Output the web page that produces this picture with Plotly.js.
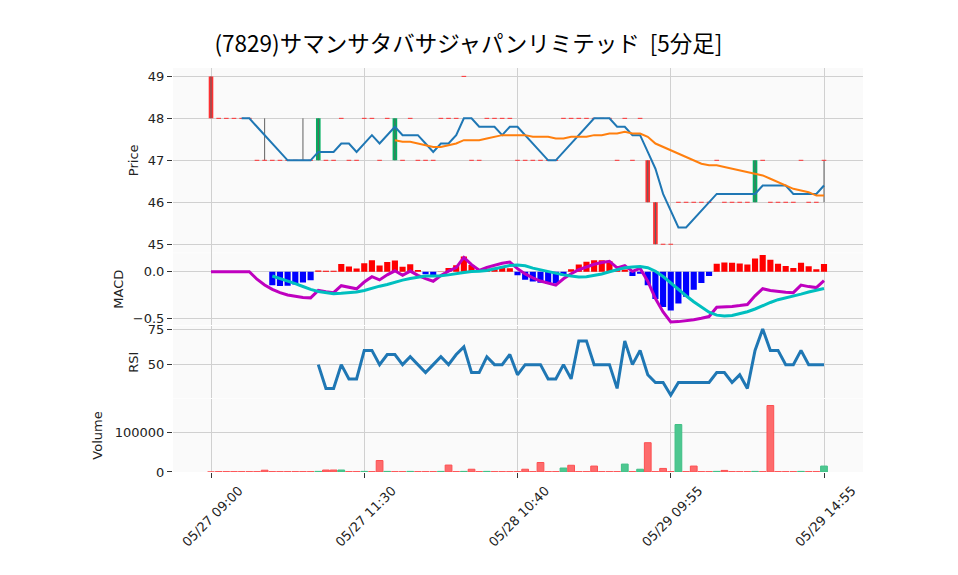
<!DOCTYPE html>
<html><head><meta charset="utf-8">
<script src="https://cdn.plot.ly/plotly-3.0.1.min.js"></script>
<style>html,body{margin:0;padding:0;background:#fff}#chart{width:958px;height:575px}</style>
</head><body><div id="chart"></div>
<script>
// ---- data ----
const tickLabels = ["05/27 09:00", "05/27 11:30", "05/28 10:40", "05/29 09:55", "05/29 14:55"];
const tickPositions = [0, 20, 40, 60, 80];

const open = [49,48,48,48,48,48,47,47,47,47, 47,47,47,47,47,47,47,48,47,47,
  48,48,47,48,47,47,48,47,47,47, 48,48,48,49,47,47,48,48,48,48,
  47,47,47,47,47,47,48,48,48,48, 48,48,48,47,48,47,48,47,46,45,
  45,46,46,46,46,46,47,46,46,46, 46,46,47,46,46,46,46,47,46,46, 47];
const high = [49,48,48,48,48,48,47,48,47,47, 47,47,48,47,48,47,47,48,47,47,
  48,48,47,48,48,47,48,47,47,47, 48,48,48,49,47,47,48,48,48,48,
  47,47,47,47,47,47,48,48,48,48, 48,48,48,47,48,47,48,47,46,45,
  45,46,46,46,46,46,47,46,46,46, 46,47,47,46,46,46,46,47,46,46, 47];
const low = [48,48,48,48,48,48,47,47,47,47, 47,47,47,47,47,47,47,48,47,47,
  48,48,47,48,47,47,48,47,47,47, 48,48,48,49,47,47,48,48,48,48,
  47,47,47,47,47,47,48,48,48,48, 48,48,48,47,48,47,48,46,45,45,
  45,46,46,46,46,46,47,46,46,46, 46,46,47,46,46,46,46,47,46,46, 46];
const close = [48,48,48,48,48,48,47,47,47,47, 47,47,47,47,48,47,47,48,47,47,
  48,48,47,48,48,47,48,47,47,47, 48,48,48,49,47,47,48,48,48,48,
  47,47,47,47,47,47,48,48,48,48, 48,48,48,47,48,47,48,46,45,45,
  45,46,46,46,46,46,47,46,46,46, 46,47,47,46,46,46,46,47,46,46, 47];
const volume = [0,800,800,800,800,800,800,4500,800,800, 800,800,800,800,1500,5000,5000,5000,800,800,
  1500,800,29000,1500,800,800,1500,800,800,800, 1500,17500,800,1500,7000,800,1500,800,800,800,
  800,7000,800,24000,800,800,10000,17000,800,800, 15000,800,800,800,20000,800,7000,74000,800,9000,
  800,120000,800,15000,800,800,1500,4000,800,800, 800,1500,800,168000,800,800,800,1500,800,800, 15000];

const ma5 = [null,null,null,null,48.0,48.0,47.8,47.6,47.4,47.2, 47.0,47.0,47.0,47.0,47.2,47.2,47.2,47.4,47.4,47.2,
  47.4,47.6,47.4,47.6,47.8,47.6,47.6,47.6,47.4,47.2, 47.4,47.4,47.6,48.0,48.0,47.8,47.8,47.8,47.6,47.8,
  47.8,47.6,47.4,47.2,47.0,47.0,47.2,47.4,47.6,47.8, 48.0,48.0,48.0,47.8,47.8,47.6,47.6,47.2,46.8,46.2,
  45.8,45.4,45.4,45.6,45.8,46.0,46.2,46.2,46.2,46.2, 46.2,46.2,46.4,46.4,46.4,46.4,46.2,46.2,46.2,46.2, 46.4];
const ma25 = [null,null,null,null,null,null,null,null,null,null, null,null,null,null,null,null,null,null,null,null,
  null,null,null,null,47.48,47.44,47.44,47.40,47.36,47.32, 47.32,47.36,47.40,47.48,47.48,47.48,47.52,47.56,47.60,47.60,
  47.60,47.60,47.56,47.56,47.56,47.52,47.52,47.56,47.56,47.56, 47.60,47.60,47.64,47.64,47.68,47.64,47.64,47.56,47.40,47.32,
  47.24,47.16,47.08,47.00,46.92,46.88,46.88,46.84,46.80,46.76, 46.72,46.68,46.64,46.56,46.48,46.40,46.32,46.28,46.24,46.16, 46.16];

const macd = [0,0,0,0,0,0,-0.0798,-0.1414,-0.1880,-0.2224,
  -0.2468,-0.2631,-0.2729,-0.2775,-0.1981,-0.2135,-0.2230,-0.1482,-0.1677,-0.1811,
  -0.1097,-0.0525,-0.0869,-0.0331,0.0095,-0.0371,0.0067,-0.0389,-0.0742,-0.1010,
  -0.0410,0.0064,0.0435,0.1518,0.0754,0.0147,0.0467,0.0713,0.0897,0.1031,
  0.0327,-0.0229,-0.0661,-0.0993,-0.1241,-0.1421,-0.0749,-0.0213,0.0209,0.0537,
  0.0788,0.0975,0.1111,0.0408,0.0649,0.0033,0.0348,-0.1005,-0.2851,-0.4265,
  -0.5324,-0.5295,-0.5212,-0.5088,-0.4933,-0.4755,-0.3764,-0.3742,-0.3682,-0.3593,
  -0.3483,-0.2559,-0.1806,-0.1993,-0.2117,-0.2190,-0.2222,-0.1424,-0.1581,-0.1685,
  -0.0950];
const signal = [null,null,null,null,null,null,null,null,-0.0455,-0.0702,
  -0.0976,-0.1268,-0.1572,-0.1880,-0.2100,-0.2249,-0.2339,-0.2295,-0.2234,-0.2161,
  -0.1991,-0.1746,-0.1534,-0.1351,-0.1103,-0.0896,-0.0724,-0.0581,-0.0462,-0.0453,
  -0.0440,-0.0336,-0.0251,-0.0093,0.0032,0.0041,0.0136,0.0297,0.0509,0.0669,
  0.0699,0.0625,0.0383,0.0189,0.0035,-0.0175,-0.0338,-0.0461,-0.0552,-0.0529,
  -0.0416,-0.0234,-0.0001,0.0183,0.0413,0.0500,0.0562,0.0427,0.0051,-0.0511,
  -0.1211,-0.1922,-0.2547,-0.3184,-0.3736,-0.4303,-0.4610,-0.4709,-0.4644,-0.4452,
  -0.4250,-0.3956,-0.3591,-0.3264,-0.2971,-0.2796,-0.2627,-0.2376,-0.2153,-0.1953,
  -0.1774];
const hist = [null,null,null,null,null,null,null,null,-0.1426,-0.1522,
  -0.1492,-0.1363,-0.1158,-0.0895,0.0119,0.0114,0.0109,0.0813,0.0557,0.0351,
  0.0894,0.1221,0.0665,0.1020,0.1198,0.0526,0.0791,0.0192,-0.0280,-0.0557,
  0.0030,0.0400,0.0686,0.1611,0.0722,0.0106,0.0331,0.0415,0.0388,0.0362,
  -0.0372,-0.0854,-0.1044,-0.1182,-0.1276,-0.1246,-0.0411,0.0248,0.0761,0.1066,
  0.1204,0.1210,0.1112,0.0225,0.0236,-0.0466,-0.0214,-0.1432,-0.2902,-0.3754,
  -0.4113,-0.3373,-0.2666,-0.1904,-0.1197,-0.0452,0.0846,0.0967,0.0962,0.0858,
  0.0767,0.1397,0.1785,0.1271,0.0854,0.0606,0.0405,0.0952,0.0572,0.0268,
  0.0824];
const rsi = [null,null,null,null,null,null,null,null,null,null, null,null,null,null,50,33.33,33.33,50,40,40,
  60,60,50,57.14,57.14,50,55.56,50,44.44,50, 55.56,50,57.14,62.5,44.44,44.44,55.56,50,50,57.14,
  42.86,50,50,50,40,40,50,40,66.67,66.67, 50,50,50,33.33,66.67,50,60,42.86,37.5,37.5,
  28.57,37.5,37.5,37.5,37.5,37.5,44.44,44.44,37.5,42.86, 33.33,60,75,60,60,50,50,60,50,50, 50];

// ---- styling ----
const UP = '#00b060', DOWN = '#fe3032', WICK = '#606060';
const VUP = '#4dc790', VDOWN = '#fd6b6c';
const idx = close.map((_, i) => i);
const upI = idx.filter(i => close[i] > open[i]);
const dnI = idx.filter(i => close[i] < open[i]);
const djI = idx.filter(i => close[i] === open[i]);
const wx = [], wy = [];
idx.forEach(i => { if (high[i] > low[i]) { wx.push(i, i, null); wy.push(low[i], high[i], null); } });

const traces = [
  {type:'scatter', mode:'lines', x:wx, y:wy, xaxis:'x2', yaxis:'y', line:{color:WICK, width:1}, hoverinfo:'skip'},
  {type:'bar', x:upI, base:upI.map(i => open[i]), y:upI.map(i => close[i] - open[i]), width:0.6,
   xaxis:'x2', yaxis:'y', marker:{color:UP, line:{width:0}}},
  {type:'bar', x:dnI, base:dnI.map(i => close[i]), y:dnI.map(i => open[i] - close[i]), width:0.6,
   xaxis:'x2', yaxis:'y', marker:{color:DOWN, line:{width:0}}},
  {type:'scatter', mode:'markers', x:djI, y:djI.map(i => close[i]), xaxis:'x2', yaxis:'y',
   marker:{symbol:'line-ew', size:3.3, color:DOWN, line:{color:DOWN, width:1}}},
  {type:'scatter', mode:'lines', x:idx, y:ma5, xaxis:'x2', yaxis:'y', line:{color:'#1f77b4', width:2}},
  {type:'scatter', mode:'lines', x:idx, y:ma25, xaxis:'x2', yaxis:'y', line:{color:'#ff7f0e', width:2}},

  {type:'bar', x:idx, y:hist, width:0.8, xaxis:'x3', yaxis:'y2',
   marker:{color:hist.map(v => (v !== null && v >= 0) ? '#ff0000' : '#0000ff'), line:{width:0}}},
  {type:'scatter', mode:'lines', x:idx, y:macd, xaxis:'x3', yaxis:'y2', line:{color:'#bf00bf', width:3}},
  {type:'scatter', mode:'lines', x:idx, y:signal, xaxis:'x3', yaxis:'y2', line:{color:'#00bfbf', width:3}},

  {type:'scatter', mode:'lines', x:idx, y:rsi, xaxis:'x4', yaxis:'y3', line:{color:'#1f77b4', width:3}},

  {type:'bar', x:idx, y:volume, width:0.88, xaxis:'x', yaxis:'y4',
   marker:{color:idx.map(i => (i > 0 && close[i] > close[i-1]) ? VUP : VDOWN),
           line:{color:idx.map(i => (i > 0 && close[i] > close[i-1]) ? '#3fbf85' : '#fd4f51'), width:1}}}
];

const gridColor = '#d0d0d0';
const axFont = {family:'DejaVu Sans, sans-serif', size:13, color:'#222'};
const yCommon = {showgrid:true, gridcolor:gridColor, gridwidth:1, zeroline:false, ticks:'outside',
  ticklen:5, tickcolor:'#333', tickfont:axFont, showline:false};
const xCommon = {range:[-4.96, 85.09], showgrid:true, gridcolor:gridColor, gridwidth:1, zeroline:false,
  tickmode:'array', tickvals:tickPositions, ticktext:tickLabels, showline:false};

const layout = {
  width:958, height:575, margin:{l:173, r:95, t:68, b:103},
  paper_bgcolor:'#ffffff', plot_bgcolor:'#fafafa', showlegend:false, barmode:'overlay',
  title:{text:'(7829)サマンサタバサジャパンリミテッド\u00a0\u00a0[5分足]',
    font:{family:'Noto Sans CJK JP, sans-serif', size:22.5, color:'#000'},
    x:0.489, xanchor:'center', xref:'container', y:1 - 44/575, yanchor:'middle', yref:'container'},
  xaxis:Object.assign({}, xCommon, {anchor:'y4', ticks:'outside', ticklen:5, tickcolor:'#333',
    tickangle:-45, tickfont:axFont, ticklabelshift:28}),
  xaxis2:Object.assign({}, xCommon, {matches:'x', anchor:'y', showticklabels:false, ticks:''}),
  xaxis3:Object.assign({}, xCommon, {matches:'x', anchor:'y2', showticklabels:false, ticks:''}),
  xaxis4:Object.assign({}, xCommon, {matches:'x', anchor:'y3', showticklabels:false, ticks:''}),
  yaxis:Object.assign({}, yCommon, {domain:[0.543, 1], range:[44.8, 49.2], tickvals:[45,46,47,48,49],
    title:{text:'Price', font:axFont, standoff:6}}),
  yaxis2:Object.assign({}, yCommon, {domain:[0.3635, 0.5415], range:[-0.567, 0.196], tickvals:[-0.5, 0],
    tickformat:'.1f', title:{text:'MACD', font:axFont, standoff:6}}),
  yaxis3:Object.assign({}, yCommon, {domain:[0.182, 0.362], range:[26.25, 77.32], tickvals:[50, 75],
    title:{text:'RSI', font:axFont, standoff:6}}),
  yaxis4:Object.assign({}, yCommon, {domain:[0, 0.181], range:[0, 184800], tickvals:[0, 100000],
    tickformat:'d', title:{text:'Volume', font:axFont, standoff:9}})
};

Plotly.newPlot('chart', traces, layout, {displayModeBar:false, staticPlot:true});
</script>
</body></html>
